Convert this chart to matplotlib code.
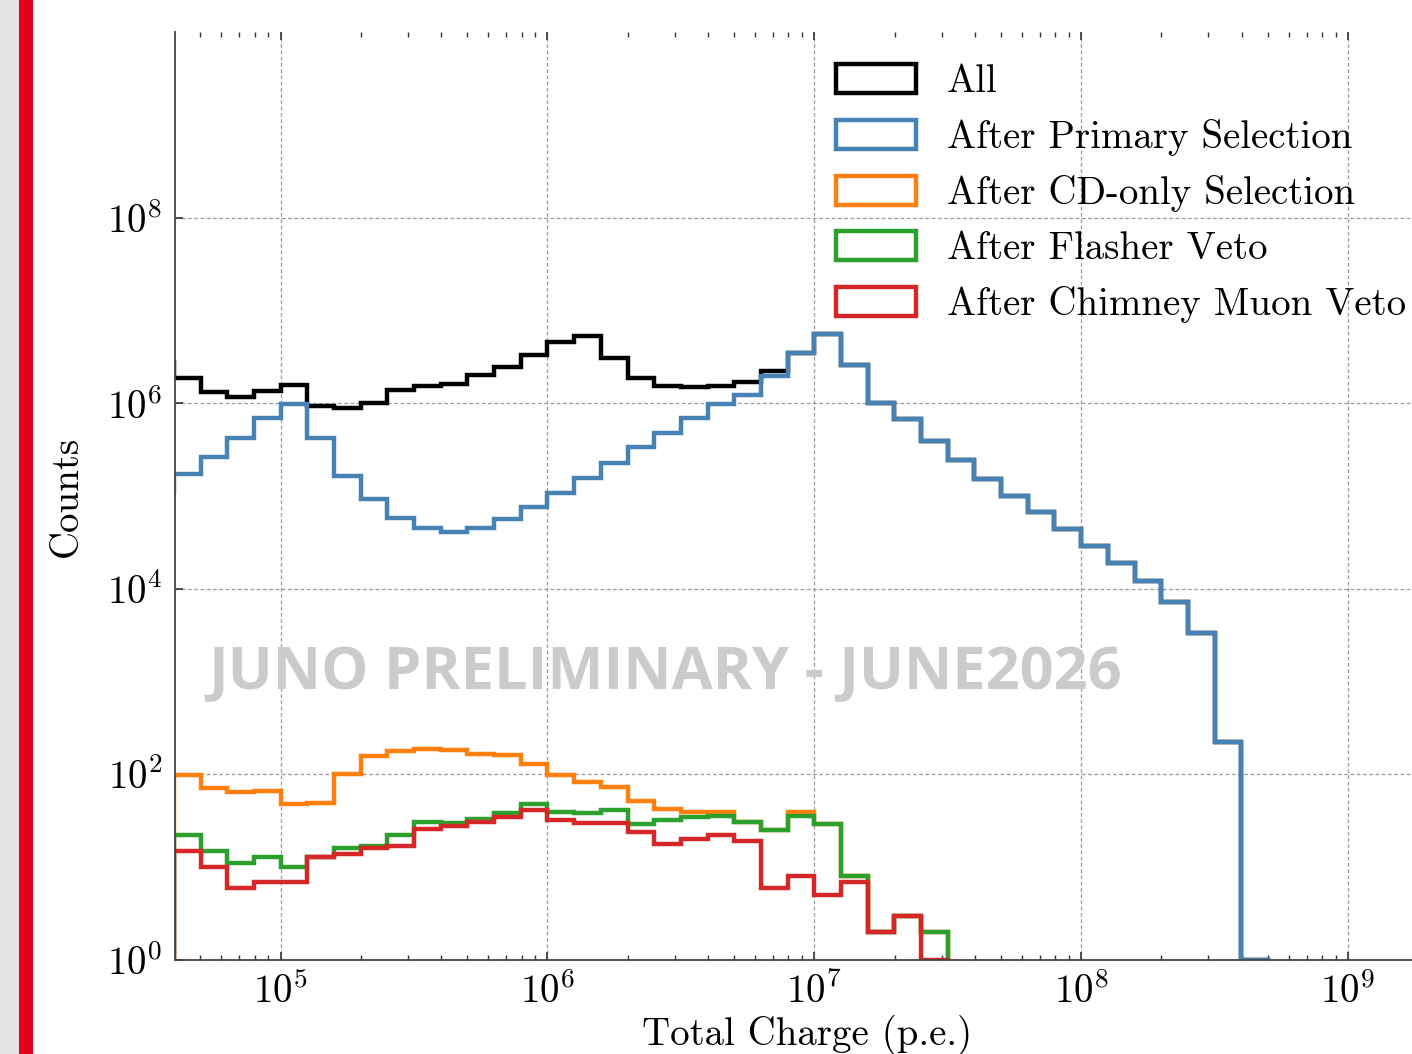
import numpy as np
import matplotlib
matplotlib.use("Agg")
import matplotlib.pyplot as plt
from matplotlib.patches import Rectangle
from matplotlib.ticker import LogLocator, LogFormatterMathtext, NullFormatter

# ---------------- data ----------------
# log10 bin edges: 10^4.5 ... 10^8.7 in steps of 0.1 decade (42 bins)
log_edge_start = 4.5
log_edge_step = 0.1
n_bins = 42

counts_all = [2.8e6, 1.87e6, 1.32e6, 1.16e6, 1.37e6, 1.58e6, 9.3e5, 8.8e5, 1.01e6, 1.40e6,
              1.52e6, 1.61e6, 2.0e6, 2.43e6, 3.28e6, 4.57e6, 5.25e6, 3.07e6, 1.86e6, 1.52e6,
              1.49e6, 1.52e6, 1.70e6, 2.21e6, 3.5e6, 5.6e6, 2.6e6, 1.01e6, 6.8e5, 3.9e5,
              2.42e5, 1.51e5, 1.0e5, 6.8e4, 4.4e4, 2.9e4, 1.92e4, 1.22e4, 7.2e3, 3.3e3,
              226, 1]
counts_primary = [1.10e5, 1.71e5, 2.63e5, 4.17e5, 6.9e5, 9.7e5, 4.2e5, 1.64e5, 9.2e4, 5.75e4,
                  4.5e4, 4.1e4, 4.5e4, 5.7e4, 7.6e4, 1.09e5, 1.57e5, 2.28e5, 3.37e5, 4.8e5,
                  6.95e5, 9.7e5, 1.23e6, 1.95e6, 3.47e6, 5.6e6, 2.6e6, 1.01e6, 6.8e5, 3.9e5,
                  2.42e5, 1.51e5, 1.0e5, 6.8e4, 4.4e4, 2.9e4, 1.92e4, 1.22e4, 7.2e3, 3.3e3,
                  226, 1]
counts_cdonly = [0, 98, 72, 65, 67, 48, 49, 102, 156, 178,
                 189, 181, 167, 160, 128, 98, 83, 74, 52, 42,
                 39, 39, 31, 25, 39, 29, 8, 2, 3, 2,
                 0, 0, 0, 0, 0, 0, 0, 0, 0, 0, 0, 0]
counts_flasher = [0, 22, 15, 11, 13, 10, 13, 16, 17, 22,
                  31, 30, 33, 38, 48, 39, 38, 41, 29, 32,
                  35, 36, 31, 25, 36, 29, 8, 2, 3, 2,
                  0, 0, 0, 0, 0, 0, 0, 0, 0, 0, 0, 0]
counts_chimney = [0, 15, 10, 6, 7, 7, 13, 14, 16, 17,
                  26, 28, 31, 35, 41, 32, 30, 30, 24, 18,
                  20, 22, 19, 6, 8, 5, 7, 2, 3, 1,
                  0, 0, 0, 0, 0, 0, 0, 0, 0, 0, 0, 0]

labels = ["All", "After Primary Selection", "After CD-only Selection",
          "After Flasher Veto", "After Chimney Muon Veto"]
colors = ["black", "#4682b4", "#ff7f0e", "#2ca02c", "#d62728"]
series = [counts_all, counts_primary, counts_cdonly, counts_flasher, counts_chimney]

# ---------------- figure ----------------
plt.rcParams["font.family"] = ["cmr10", "DejaVu Serif"]
plt.rcParams["mathtext.fontset"] = "cm"
plt.rcParams["axes.formatter.use_mathtext"] = True
plt.rcParams["axes.unicode_minus"] = False

W, H = 1412, 1054
fig = plt.figure(figsize=(W / 100, H / 100), dpi=100)

# slide decoration at the left
fig.patches.append(Rectangle((0, 0), 19 / W, 1, transform=fig.transFigure,
                             facecolor="#e3e3e3", edgecolor="none", zorder=0))
fig.patches.append(Rectangle((19 / W, 0), 14 / W, 1, transform=fig.transFigure,
                             facecolor="#e2001a", edgecolor="none", zorder=0))

ax_left, ax_bottom = 175 / W, 1 - 960 / H
ax = fig.add_axes([ax_left, ax_bottom, 1 - ax_left, (960 - 32) / H])
ax.set_xscale("log")
ax.set_yscale("log", nonpositive="clip")

edges = 10 ** (log_edge_start + log_edge_step * np.arange(n_bins + 1))
centers = np.sqrt(edges[:-1] * edges[1:])

for vals, lab, col in zip(series, labels, colors):
    ax.hist(centers, bins=edges, weights=vals, histtype="step",
            color=col, lw=3.2, label=lab)

ax.set_xlim(10 ** 4.604, 10 ** 9.24)
ax.set_ylim(1, 1e10)

# ticks
ax.xaxis.set_major_locator(LogLocator(base=10, numticks=20))
ax.xaxis.set_minor_locator(LogLocator(base=10, subs=np.arange(2, 10), numticks=20))
ax.xaxis.set_major_formatter(LogFormatterMathtext())
ax.xaxis.set_minor_formatter(NullFormatter())
ax.yaxis.set_major_locator(matplotlib.ticker.FixedLocator([1, 1e2, 1e4, 1e6, 1e8]))
ax.yaxis.set_minor_locator(matplotlib.ticker.NullLocator())
ax.yaxis.set_major_formatter(LogFormatterMathtext())

ax.tick_params(axis="both", which="both", direction="in", top=True, right=False,
               labelsize=28, colors="#333333", labelcolor="black")
ax.tick_params(axis="both", which="major", length=6, width=1.2, pad=9)
ax.tick_params(axis="x", which="minor", length=3.5, width=1.0)

ax.grid(True, which="major", linestyle="--", color="#9a9a9a", linewidth=0.9, dashes=(3, 2))

for side in ("top", "right"):
    ax.spines[side].set_visible(False)
for side in ("left", "bottom"):
    ax.spines[side].set_color("#444444")
    ax.spines[side].set_linewidth(1.3)

ax.set_xlabel("Total Charge (p.e.)", fontsize=28)
ax.xaxis.set_label_coords((808 - 175) / 1239, -0.059)
ax.set_ylabel("Counts", fontsize=28)
ax.yaxis.set_label_coords(-0.073, 0.5)

leg = ax.legend(loc="upper left", bbox_to_anchor=(836 / W, 1 - 64 / H),
                bbox_transform=fig.transFigure, frameon=False, fontsize=28,
                handlelength=2.05, handleheight=0.75, handletextpad=0.8,
                labelspacing=0.49, borderpad=0.0, borderaxespad=0.0)

# watermark
ax.text(208 / W, 1 - 673 / H, "JUNO PRELIMINARY - JUNE2026", transform=fig.transFigure,
        ha="left", va="center", fontsize=42.8, fontweight="bold",
        family=["Open Sans", "DejaVu Sans"], color="#cbcbcb", zorder=5)

fig.savefig("out.png", dpi=100)
